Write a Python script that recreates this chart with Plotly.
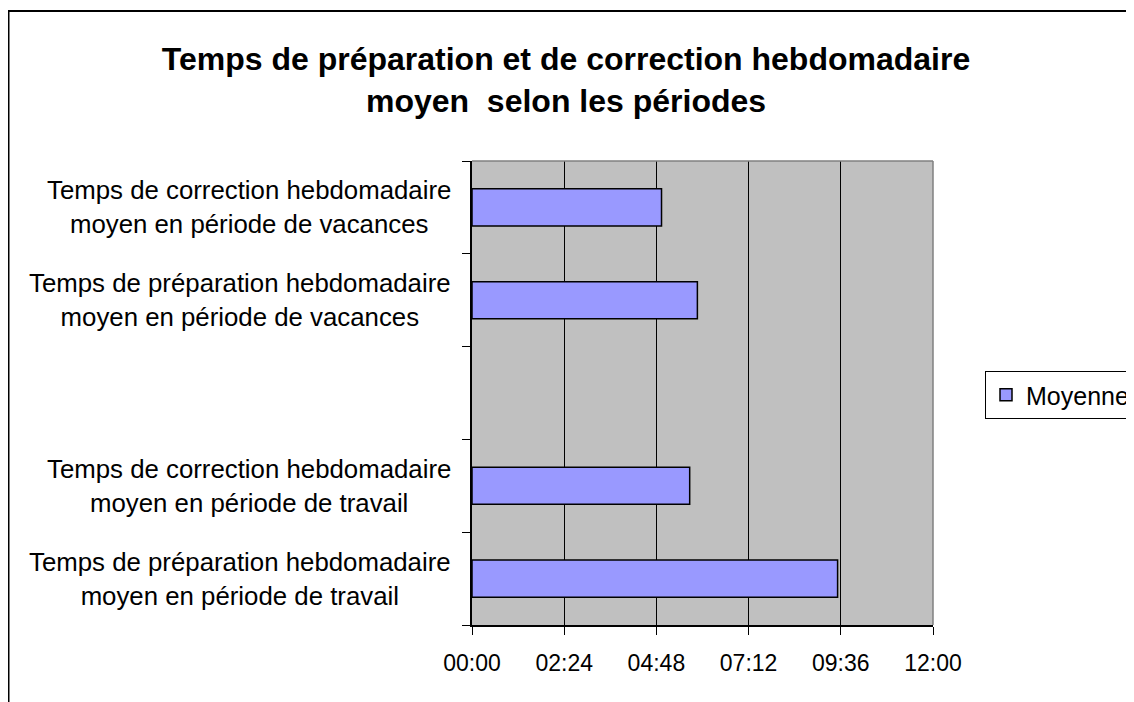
import plotly.graph_objects as go

# ---- data (bottom to top, as drawn) ----
categories = [
    "Temps de préparation hebdomadaire<br>moyen en période de travail",
    "Temps de correction hebdomadaire<br>moyen en période de travail",
    " ",
    "Temps de préparation hebdomadaire<br>moyen en période de vacances",
    "Temps de correction hebdomadaire<br>moyen en période de vacances",
]
durations = ["09:31", "05:40", None, "05:52", "04:56"]  # HH:MM
series_name = "Moyenne"
tick_hours = [0, 2.4, 4.8, 7.2, 9.6, 12]
tick_labels = ["00:00", "02:24", "04:48", "07:12", "09:36", "12:00"]
title_text = "Temps de préparation et de correction hebdomadaire<br>moyen\u00a0 selon les périodes"


def to_hours(s):
    if s is None:
        return None
    h, m = s.split(":")
    return int(h) + int(m) / 60.0


values = [to_hours(d) for d in durations]

FONT = "Liberation Sans, Arial, sans-serif"
# page body has an 8px margin, so the figure is laid out in page coords minus 8
OFF = 8
W, H = 1134 - OFF, 702 - OFF
L, R, T, B = 464, 925, 153, 617


def px_x(page_x):
    return (page_x - OFF - L) / (R - L)


def px_y(page_y):
    return (B - (page_y - OFF)) / (B - T)


fig = go.Figure()
fig.add_trace(go.Bar(
    y=categories, x=values, orientation="h", name=series_name,
    marker=dict(color="#9999FF", line=dict(color="black", width=1.5)),
    showlegend=True,
))

annotations = []
for c in categories:
    if c.strip():
        annotations.append(dict(
            x=px_x(453), xref="paper", y=c, yref="y",
            xanchor="right", yanchor="middle", align="center",
            text=c, showarrow=False,
            font=dict(family=FONT, size=25.8, color="black"),
        ))

shapes = [
    dict(type="line", xref="paper", yref="paper", x0=0, x1=1, y0=1, y1=1,
         line=dict(color="#808080", width=1.5), layer="above"),
    dict(type="line", xref="paper", yref="paper", x0=1, x1=1, y0=0, y1=1,
         line=dict(color="#808080", width=1.5), layer="above"),
    dict(type="rect", xref="paper", yref="paper",
         x0=px_x(8.5), x1=2.0, y0=-0.5, y1=px_y(11),
         line=dict(color="black", width=2), fillcolor="rgba(0,0,0,0)", layer="above"),
]

fig.update_layout(
    width=W, height=H,
    margin=dict(l=L, r=W - R, t=T, b=H - B, autoexpand=False),
    paper_bgcolor="white", plot_bgcolor="#C0C0C0",
    font=dict(family=FONT, size=23, color="black"),
    title=dict(text="<b>" + title_text + "</b>", x=(566 - OFF) / W, xanchor="center",
               xref="container", yref="container", y=1 - 62 / H, yanchor="top",
               font=dict(family=FONT, size=32, color="black")),
    bargap=0.6,
    showlegend=True,
    legend=dict(x=px_x(985), xanchor="left", y=px_y(371), yanchor="top",
                bordercolor="black", borderwidth=1, bgcolor="white",
                font=dict(family=FONT, size=25, color="black")),
    annotations=annotations,
    shapes=shapes,
)
fig.update_xaxes(range=[0, 12], tickvals=tick_hours, ticktext=tick_labels,
                 showgrid=True, gridcolor="black", gridwidth=1,
                 showline=True, linecolor="black", linewidth=1.5,
                 ticks="outside", ticklen=8, tickcolor="black", tickwidth=1,
                 ticklabelstandoff=9,
                 zeroline=False, tickfont=dict(family=FONT, size=23, color="black"))
fig.update_yaxes(type="category", categoryorder="array", categoryarray=categories,
                 range=[-0.5, 4.5], showticklabels=False, showgrid=False,
                 showline=True, linecolor="black", linewidth=1.5,
                 ticks="outside", ticklen=8, tickcolor="black", tickwidth=1,
                 tickson="boundaries", zeroline=False)

fig.write_html("out.html")
